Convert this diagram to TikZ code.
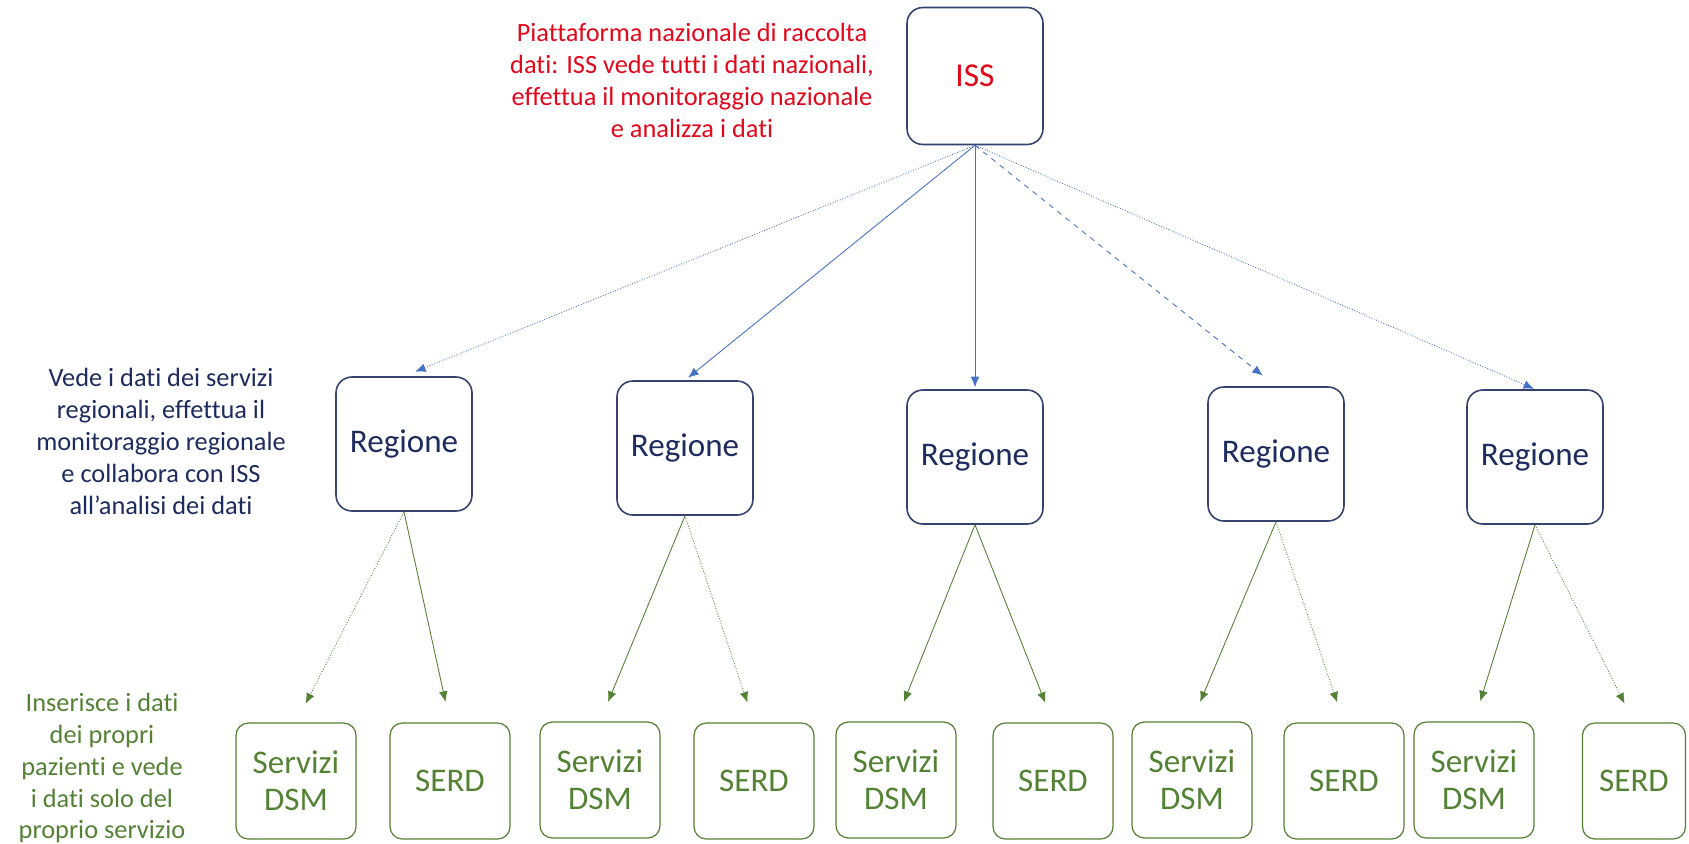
\documentclass[tikz,border=0pt]{standalone}
\usepackage{fontspec}
\setmainfont[RawFeature={-liga;-clig;-dlig;-calt}]{Carlito}
\usepackage{xcolor}
\usepackage{tikz}
\usetikzlibrary{arrows.meta, positioning}

\definecolor{issred}{HTML}{E2071A}
\definecolor{regblue}{HTML}{1E2B5E}
\definecolor{regline}{HTML}{34426F}
\definecolor{arrowblue}{HTML}{4472C4}
\definecolor{servgreen}{HTML}{548235}

\begin{document}
\begin{tikzpicture}[
			x=0.02cm, y=-0.02cm,
			issblock/.style = {rectangle, draw=regline, line width=0.9pt, rounded corners=9pt,
					minimum width=2.72cm, minimum height=2.74cm, text=issred,
					font=\fontsize{19}{22}\selectfont},
			regblock/.style = {rectangle, draw=regline, line width=0.9pt, rounded corners=9pt,
					minimum width=2.72cm, minimum height=2.68cm, text=regblue,
					font=\fontsize{18.8}{21}\selectfont},
			servblock/.style = {rectangle, draw=servgreen, line width=0.7pt, rounded corners=7pt,
					minimum width=2.4cm, minimum height=2.32cm, text=servgreen, align=center,
					font=\fontsize{18.8}{21}\selectfont},
			note/.style = {align=center, font=\fontsize{15}{18.2}\selectfont},
			line/.style = {draw=arrowblue, line width=0.5pt, -{Latex[length=6pt, width=5pt]}},
			subline/.style = {draw=servgreen, line width=0.5pt, -{Latex[length=6pt, width=5pt]}, shorten >=0.42cm},
		]
		\useasboundingbox (0,0) rectangle (1689,843);

		% National level
		\node [issblock] (iss) at (975,76) {ISS};
		\node [note, text=issred] (issnote) at (692,80) {Piattaforma nazionale di raccolta\\dati: ISS vede tutti i dati nazionali,\\effettua il monitoraggio nazionale\\e analizza i dati};

		% Regions
		\node [note, text=regblue] (regnote) at (161,441) {Vede i dati dei servizi\\regionali, effettua il\\monitoraggio regionale\\e collabora con ISS\\all’analisi dei dati};
		\node [regblock] (reg1) at (404,444) {Regione};
		\node [regblock] (reg2) at (685,448) {Regione};
		\node [regblock] (reg3) at (975,457) {Regione};
		\node [regblock] (reg4) at (1276,454) {Regione};
		\node [regblock] (reg5) at (1535,457) {Regione};

		% Services
		\node [note, text=servgreen] (servnote) at (102,768) {Inserisce i dati\\dei propri\\pazienti e vede\\i dati solo del\\proprio servizio};
		\node [servblock] (dsm1) at (296,781) {Servizi\\DSM};
		\node [servblock] (serd1) at (450,781) {SERD};
		\node [servblock] (dsm2) at (600,780) {Servizi\\DSM};
		\node [servblock] (serd2) at (754,781) {SERD};
		\node [servblock] (dsm3) at (896,780) {Servizi\\DSM};
		\node [servblock] (serd3) at (1053,781) {SERD};
		\node [servblock] (dsm4) at (1192,780) {Servizi\\DSM};
		\node [servblock] (serd4) at (1344,781) {SERD};
		\node [servblock] (dsm5) at (1474,780) {Servizi\\DSM};
		\node [servblock, minimum width=2.06cm] (serd5) at (1634,781) {SERD};

		% Draw arrows
		\path [line, densely dotted, shorten >=0.24cm] (iss.south) -- (reg1.north);
		\path [line, shorten >=0.08cm] (iss.south) -- (reg2.north);
		\path [line, shorten >=0.04cm] (iss.south) -- (reg3.north);
		\path [line, dashed, shorten >=0.34cm] (iss.south) -- (reg4.north);
		\path [line, densely dotted, shorten >=0.02cm] (iss.south) -- (reg5.north);

		\path [subline, densely dotted] (reg1.south) -- (dsm1.north);
		\path [subline] (reg1.south) -- (serd1.north);
		\path [subline] (reg2.south) -- (dsm2.north);
		\path [subline, densely dotted] (reg2.south) -- (serd2.north);
		\path [subline] (reg3.south) -- (dsm3.north);
		\path [subline] (reg3.south) -- (serd3.north);
		\path [subline] (reg4.south) -- (dsm4.north);
		\path [subline, densely dotted] (reg4.south) -- (serd4.north);
		\path [subline] (reg5.south) -- (dsm5.north);
		\path [subline, densely dotted] (reg5.south) -- (serd5.north);

	\end{tikzpicture}
\end{document}
